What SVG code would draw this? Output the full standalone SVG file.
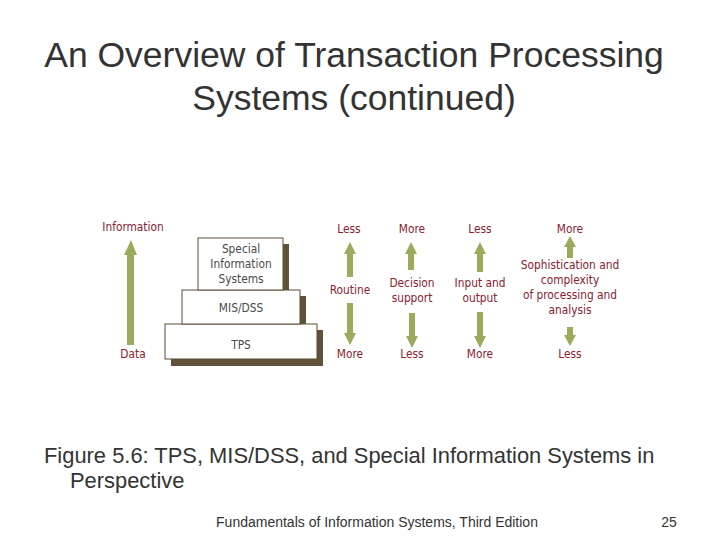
<svg xmlns="http://www.w3.org/2000/svg" width="720" height="540" viewBox="0 0 720 540">
<style>
.t{font-family:"Liberation Sans",Arial,sans-serif;fill:#333}
.r{font-family:"DejaVu Sans Condensed","Liberation Sans",sans-serif;font-size:11.8px;fill:#8b2030;text-anchor:middle}
.b{fill:#fff;stroke:#5a4e36;stroke-width:1}
.s{fill:#5e5238}
.g{fill:#9aab5c}
.bl{font-family:"DejaVu Sans Condensed","Liberation Sans",sans-serif;font-size:11.8px;fill:#4a4a4a;text-anchor:middle}
</style>
<rect width="720" height="540" fill="#fff"/>
<text class="t" x="354" y="67" font-size="35.5" text-anchor="middle" fill="#444">An Overview of Transaction Processing</text>
<text class="t" x="354" y="110" font-size="35.5" text-anchor="middle">Systems (continued)</text>
<g id="connectors">
<polygon class="g" points="131,240 124,255 127,255 127,345 134,345 134,255 137,255"/>
<polygon class="g" points="350,242 344,254 347,254 347,277 353,277 353,254 356,254"/>
<polygon class="g" points="350,345 344,333 347,333 347,303 353,303 353,333 356,333"/>
<polygon class="g" points="411,242 405,254 408,254 408,270 414,270 414,254 417,254"/>
<polygon class="g" points="412,348 406,336 409,336 409,313 415,313 415,336 418,336"/>
<polygon class="g" points="480,242 474,254 477,254 477,272 483,272 483,254 486,254"/>
<polygon class="g" points="480,348 474,336 477,336 477,312 483,312 483,336 486,336"/>
<polygon class="g" points="570,236 564,247 567,247 567,258 573,258 573,247 576,247"/>
<polygon class="g" points="570,346 564,335 567,335 567,327 573,327 573,335 576,335"/>
</g>
<g id="tps"><rect class="s" x="171" y="330" width="152" height="36"/><rect class="b" x="165" y="324" width="152" height="35"/><text class="bl" x="241" y="349">TPS</text></g>
<g id="mis"><rect class="s" x="188" y="296" width="118" height="28"/><rect class="b" x="182" y="290" width="118" height="34"/><text class="bl" x="241" y="312">MIS/DSS</text></g>
<g id="sis"><rect class="s" x="204" y="244" width="85" height="46"/><rect class="b" x="198" y="238" width="85" height="52"/>
<text class="bl" x="241" y="253">Special</text><text class="bl" x="241" y="268">Information</text><text class="bl" x="241" y="283">Systems</text></g>
<g id="labels">
<text class="r" x="133" y="231">Information</text><text class="r" x="133" y="358">Data</text>
<text class="r" x="349" y="233">Less</text><text class="r" x="350" y="294">Routine</text><text class="r" x="350" y="358">More</text>
<text class="r" x="412" y="233">More</text><text class="r" x="412" y="287">Decision</text><text class="r" x="412" y="302">support</text><text class="r" x="412" y="358">Less</text>
<text class="r" x="480" y="233">Less</text><text class="r" x="480" y="287">Input and</text><text class="r" x="480" y="302">output</text><text class="r" x="480" y="358">More</text>
<text class="r" x="570" y="233">More</text><text class="r" x="570" y="269">Sophistication and</text><text class="r" x="570" y="284">complexity</text><text class="r" x="570" y="299">of processing and</text><text class="r" x="570" y="314">analysis</text><text class="r" x="570" y="358">Less</text>
</g>
<text class="t" x="44" y="463" font-size="21.9">Figure 5.6: TPS, MIS/DSS, and Special Information Systems in</text>
<text class="t" x="70" y="488" font-size="21.9">Perspective</text>
<text class="t" x="377" y="527" font-size="14" text-anchor="middle">Fundamentals of Information Systems, Third Edition</text>
<text class="t" x="669" y="527" font-size="14" text-anchor="middle">25</text>
</svg>
